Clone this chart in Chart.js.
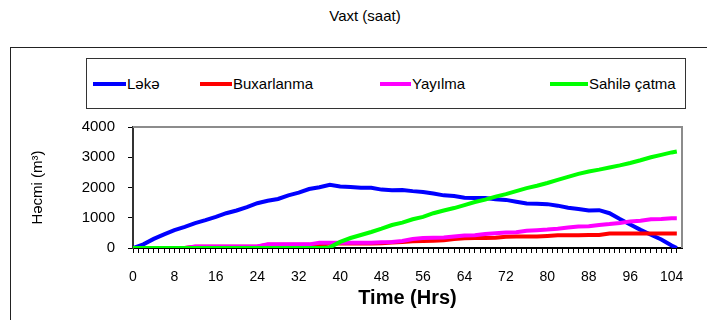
<!DOCTYPE html>
<html>
<head>
<meta charset="utf-8">
<script src="https://cdn.jsdelivr.net/npm/chart.js@4.4.0/dist/chart.umd.min.js"></script>
<style>
  body { margin: 0; background: #fff; font-family: "Liberation Sans", Arial, sans-serif; }
  #wrap { position: relative; width: 707px; height: 320px; overflow: hidden; }
  #chart { position: absolute; left: 0; top: 0; }
  .title { position: absolute; left: 265px; width: 200px; top: 7px; text-align: center; font-size: 15px; color: #000; }
  .frame { position: absolute; left: 10px; top: 47px; width: 720px; height: 300px; border: 1px solid #222; }
  .legend { position: absolute; left: 86px; top: 58px; width: 598px; height: 49px; border: 1px solid #333; }
  .item { position: absolute; top: 16px; font-size: 15px; line-height: 17px; white-space: nowrap; }
  .item i { display: inline-block; height: 4px; vertical-align: middle; margin-right: 1px; position: relative; top: -1px; }
</style>
</head>
<body>
<div id="wrap">
  <div class="frame"></div>
  <div class="title">Vaxt (saat)</div>
  <div class="legend" id="legend"></div>
  <canvas id="chart" width="707" height="320"></canvas>
</div>
<script>
const hours = [0, 2, 4, 6, 8, 10, 12, 14, 16, 18, 20, 22, 24, 26, 28, 30, 32, 34, 36, 38,
  40, 42, 44, 46, 48, 50, 52, 54, 56, 58, 60, 62, 64, 66, 68, 70, 72, 74, 76, 78,
  80, 82, 84, 86, 88, 90, 92, 94, 96, 98, 100, 102, 104, 105];

const leke = [0, 120, 300, 450, 590, 700, 820, 920, 1030, 1150, 1240, 1350, 1480, 1560, 1620, 1740, 1830, 1950, 2010, 2090,
  2030, 2020, 1990, 1990, 1930, 1910, 1920, 1880, 1850, 1800, 1740, 1720, 1660, 1650, 1650, 1610, 1590, 1530, 1470, 1460,
  1450, 1400, 1330, 1290, 1240, 1250, 1150, 960, 780, 600, 440, 280, 80, 0];

const buxarlanma = [0, 0, 0, 0, 0, 0, 40, 40, 40, 40, 40, 40, 40, 110, 110, 110, 110, 110, 110, 150,
  150, 150, 150, 150, 160, 180, 200, 220, 230, 240, 260, 300, 320, 330, 330, 340, 370, 380, 380, 380,
  400, 420, 420, 420, 430, 430, 480, 480, 480, 480, 480, 480, 480, 480];

const yayilma = [0, 0, 0, 0, 0, 0, 50, 50, 50, 50, 50, 50, 50, 120, 120, 120, 120, 120, 170, 170,
  170, 170, 170, 170, 190, 200, 230, 300, 330, 340, 350, 380, 410, 420, 460, 490, 510, 520, 570, 590,
  610, 640, 680, 710, 720, 760, 790, 830, 880, 900, 950, 960, 980, 980];

const sahile = [0, 0, 0, 0, 0, 0, 0, 0, 0, 0, 0, 0, 0, 0, 0, 0, 0, 0, 0, 20,
  200, 330, 430, 530, 640, 760, 840, 950, 1030, 1150, 1240, 1320, 1420, 1520, 1600, 1700, 1780, 1880, 1980, 2060,
  2150, 2250, 2350, 2450, 2530, 2590, 2660, 2730, 2810, 2900, 3000, 3080, 3160, 3190];

const seriesNames = ['Ləkə', 'Buxarlanma', 'Yayılma', 'Sahilə çatma'];
const seriesColors = ['#0000ff', '#ff0000', '#ff00ff', '#00ff00'];
const seriesData = [leke, buxarlanma, yayilma, sahile];
const yTicks = [0, 1000, 2000, 3000, 4000];

const FONT = '"Liberation Sans", Arial, sans-serif';

// legend (HTML, Excel-like uneven spacing)
const legendX = [6, 113, 293, 463];
const legendLine = [33, 32, 31, 38];
const legendEl = document.getElementById('legend');
seriesNames.forEach((name, i) => {
  const d = document.createElement('div');
  d.className = 'item';
  d.style.left = legendX[i] + 'px';
  d.innerHTML = `<i style="width:${legendLine[i]}px;background:${seriesColors[i]}"></i>${name}`;
  legendEl.appendChild(d);
});

const plotBorder = {
  id: 'plotBorder',
  beforeDatasetsDraw(chart) {
    const {ctx, chartArea: a} = chart;
    ctx.save();
    ctx.strokeStyle = '#8c8c8c';
    ctx.lineWidth = 2;
    ctx.beginPath();
    ctx.moveTo(a.left, a.top);
    ctx.lineTo(a.right, a.top);
    ctx.lineTo(a.right, a.bottom);
    ctx.stroke();
    ctx.restore();
  }
};

new Chart(document.getElementById('chart'), {
  type: 'line',
  data: {
    datasets: seriesData.map((vals, i) => ({
      label: seriesNames[i],
      data: hours.map((h, j) => ({x: h, y: vals[j]})),
      borderColor: seriesColors[i],
      backgroundColor: seriesColors[i],
      borderWidth: 4,
      pointRadius: 0,
      tension: 0,
      order: 3 - i
    }))
  },
  options: {
    responsive: false,
    animation: false,
    layout: { padding: { top: 127, right: 25, left: 0, bottom: 0 } },
    plugins: { legend: { display: false }, tooltip: { enabled: false } },
    scales: {
      x: {
        type: 'linear',
        min: 0,
        max: 106,
        afterFit(s) { s.height = 72; },
        afterBuildTicks(s) {
          s.ticks = [];
          for (let h = 0; h <= 105; h++) s.ticks.push({value: h});
        },
        ticks: {
          autoSkip: false,
          maxRotation: 0,
          padding: 16,
          color: '#000',
          font: { family: FONT, size: 14 },
          callback: v => (v % 8 === 0 ? String(v) : '')
        },
        grid: { drawOnChartArea: false, drawTicks: true, tickLength: 5, color: '#000' },
        border: { color: '#000', width: 2 },
        title: {
          display: true,
          text: 'Time (Hrs)',
          color: '#000',
          font: { family: FONT, size: 20, weight: 'bold' },
          padding: { top: 0, bottom: 10 }
        }
      },
      y: {
        min: 0,
        max: 4000,
        afterFit(s) { s.width = 133; },
        afterBuildTicks(s) { s.ticks = yTicks.map(v => ({value: v})); },
        ticks: {
          padding: 13,
          color: '#000',
          font: { family: FONT, size: 15 },
          callback: v => String(v)
        },
        grid: { drawOnChartArea: false, drawTicks: true, tickLength: 5, color: '#000' },
        border: { color: '#333', width: 2 },
        title: {
          display: true,
          text: 'Həcmi (m³)',
          color: '#000',
          font: { family: FONT, size: 15 },
          padding: { top: 29, bottom: 0 }
        }
      }
    }
  },
  plugins: [plotBorder]
});
</script>
</body>
</html>
